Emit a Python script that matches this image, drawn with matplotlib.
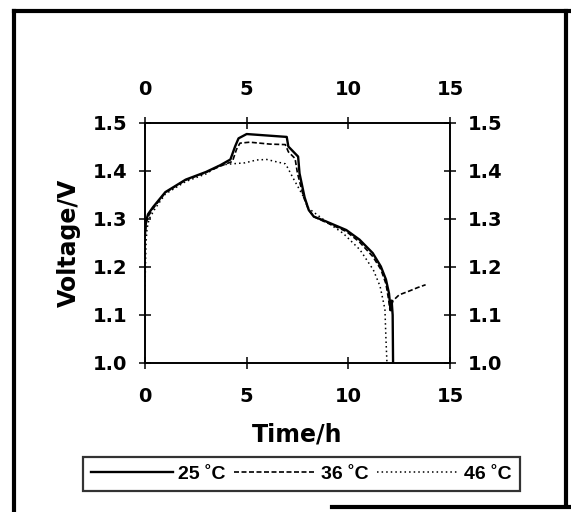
import matplotlib
matplotlib.use("Agg")
import matplotlib.pyplot as plt
from matplotlib.lines import Line2D

# time (h) and cell voltage (V) for the three temperatures
t25 = [0, 0.05, 0.15, 0.4, 1.0, 2.0, 3.0, 3.7, 4.2, 4.43, 4.6, 5.0, 5.66, 6.97,
       7.05, 7.53, 7.6, 7.85, 8.05, 8.3, 8.9, 9.9, 10.55, 11.2, 11.6, 11.85,
       12.0, 12.08, 12.13, 12.18, 12.2]
v25 = [1.27, 1.295, 1.31, 1.325, 1.356, 1.382, 1.398, 1.412, 1.424, 1.451,
       1.468, 1.477, 1.475, 1.471, 1.451, 1.430, 1.395, 1.345, 1.319, 1.305,
       1.295, 1.277, 1.257, 1.229, 1.201, 1.174, 1.145, 1.11, 1.13, 1.10, 1.0]

t36 = [0, 0.05, 0.15, 0.4, 1.0, 2.0, 3.0, 3.7, 4.3, 4.5, 4.67, 5.15, 6.15, 6.9,
       7.05, 7.38, 7.5, 7.8, 8.05, 8.3, 8.9, 9.9, 10.55, 11.2, 11.6, 11.85,
       11.97, 12.05, 12.2, 12.5, 13.0, 13.4, 13.8]
v36 = [1.26, 1.29, 1.305, 1.322, 1.355, 1.381, 1.397, 1.410, 1.420, 1.445,
       1.458, 1.460, 1.456, 1.455, 1.440, 1.426, 1.395, 1.346, 1.319, 1.305,
       1.293, 1.274, 1.252, 1.222, 1.195, 1.165, 1.135, 1.11, 1.13, 1.142,
       1.150, 1.157, 1.163]

t46 = [0, 0.02, 0.05, 0.1, 0.2, 0.5, 1.0, 2.0, 3.0, 3.69, 4.3, 4.92, 5.49,
       5.99, 6.48, 6.9, 7.0, 7.3, 7.8, 8.05, 8.9, 9.75, 10.57, 11.23, 11.56,
       11.8, 11.85, 11.9]
v46 = [1.15, 1.2, 1.25, 1.28, 1.30, 1.322, 1.352, 1.378, 1.394, 1.4125,
       1.415, 1.417, 1.423, 1.424, 1.419, 1.415, 1.408, 1.384, 1.346, 1.322,
       1.295, 1.27, 1.236, 1.194, 1.16, 1.112, 1.05, 1.0]

labels = ["25 \u02daC", "36 \u02daC", "46 \u02daC"]
xticks = [0, 5, 10, 15]
yticks = [1.0, 1.1, 1.2, 1.3, 1.4, 1.5]

W, H = 571, 512
fig = plt.figure(figsize=(W / 100, H / 100), dpi=100)
ax = fig.add_axes([145 / W, 1 - 363 / H, 305 / W, 240 / H])

l1, = ax.plot(t25, v25, color="black", lw=1.7, ls="-")
l2, = ax.plot(t36, v36, color="black", lw=1.2, ls=(0, (3, 1.5)))
l3, = ax.plot(t46, v46, color="black", lw=1.1, ls=(0, (1, 2)))

ax.set_xlim(0, 15)
ax.set_ylim(1.0, 1.5)
ax.set_xticks(xticks)
ax.set_yticks(yticks)
ax.set_xticklabels([str(v) for v in xticks])
ax.set_yticklabels([f"{v:.1f}" for v in yticks])

font = "DejaVu Sans"
for s in ax.spines.values():
    s.set_linewidth(1.4)
ax.tick_params(direction="inout", length=9, width=1.1,
               top=True, right=True, labeltop=True, labelright=True,
               labelsize=14)
ax.tick_params(axis="x", pad=13)
ax.tick_params(axis="y", pad=8)
for t in ax.xaxis.get_major_ticks() + ax.yaxis.get_major_ticks():
    for lab in (t.label1, t.label2):
        lab.set_fontweight("bold")
        lab.set_family(font)

ax.set_xlabel("Time/h", fontsize=17, fontweight="bold", family=font, labelpad=12)
ax.set_ylabel("Voltage/V", fontsize=17, fontweight="bold", family=font, labelpad=9)

leg = fig.legend([l1, l2, l3], labels, loc="center",
                 bbox_to_anchor=(301.5 / W, 1 - 474 / H), ncol=3,
                 prop={"family": "Liberation Sans", "weight": "bold", "size": 14},
                 handlelength=4.2, handletextpad=0.28, columnspacing=0.42,
                 borderpad=0.42, fancybox=False, frameon=True, borderaxespad=0)
leg.get_frame().set_edgecolor("black")
leg.get_frame().set_linewidth(1.6)

# outer frame of the scanned figure
frame = dict(color="black", lw=3, transform=fig.transFigure, clip_on=False)
fig.add_artist(Line2D([14 / W, 14 / W], [0, 1 - 11 / H], **frame))
fig.add_artist(Line2D([14 / W, 1], [1 - 11 / H, 1 - 11 / H], **frame))
fig.add_artist(Line2D([566 / W, 566 / W], [1 - 11 / H, 1 - 505 / H], **frame))
fig.add_artist(Line2D([332 / W, 1], [1 - 507 / H, 1 - 507 / H], **frame))

fig.savefig("out.png", dpi=100)
